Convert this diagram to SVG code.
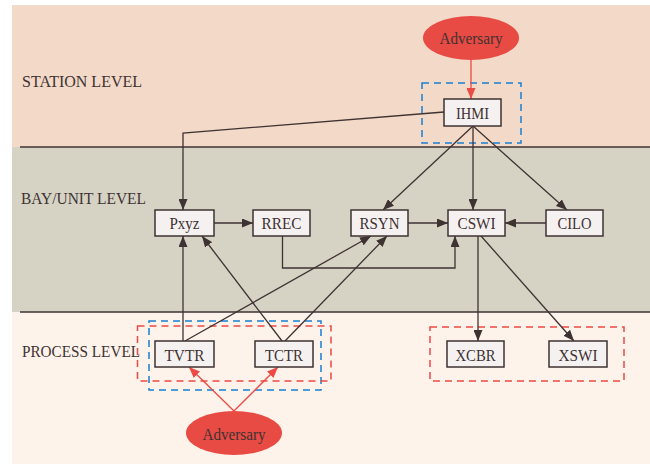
<svg xmlns="http://www.w3.org/2000/svg" width="650" height="464" viewBox="0 0 650 464">
<defs>
<style>
.lbl{font-family:"Liberation Serif","Times New Roman",serif;font-size:17px;fill:#3e3232}
.node rect{fill:#f6f1f1;stroke:#3e3232;stroke-width:1.5}
.node text{font-family:"Liberation Serif","Times New Roman",serif;font-size:17px;fill:#3e3232;text-anchor:middle}
.adv ellipse{fill:#e84a44}
.adv text{font-family:"Liberation Serif","Times New Roman",serif;font-size:16.5px;fill:#3e3232;text-anchor:middle}
.c{fill:none;stroke:#3e3232;stroke-width:1.3;marker-end:url(#ah)}
.r{fill:none;stroke:#ec4a44;stroke-width:1.3;marker-end:url(#ahr)}
.db{fill:none;stroke:#1a7fd4;stroke-width:1.5;stroke-dasharray:7 5}
.dr{fill:none;stroke:#ec4a44;stroke-width:1.5;stroke-dasharray:7 5}
.sep{stroke:#3e3232;stroke-width:1.5}
</style>
<marker id="ah" markerUnits="userSpaceOnUse" markerWidth="11" markerHeight="9" refX="11" refY="4.5" orient="auto"><path d="M0,0 L11,4.5 L0,9 z" fill="#3e3232"/></marker>
<marker id="ahr" markerUnits="userSpaceOnUse" markerWidth="11" markerHeight="9" refX="11" refY="4.5" orient="auto"><path d="M0,0 L11,4.5 L0,9 z" fill="#ec4a44"/></marker>
</defs>
<g id="background">
<rect x="12" y="5" width="638" height="142" fill="#f3d9c7"/>
<rect x="12" y="147" width="638" height="165" fill="#d6d3c5"/>
<rect x="12" y="312" width="638" height="152" fill="#fdf3ea"/>
<line class="sep" x1="20" y1="147" x2="650" y2="147"/>
<line class="sep" x1="20" y1="312" x2="650" y2="312"/>
<text class="lbl" x="22" y="87" textLength="120" lengthAdjust="spacingAndGlyphs">STATION LEVEL</text>
<text class="lbl" x="21" y="204" textLength="125" lengthAdjust="spacingAndGlyphs">BAY/UNIT LEVEL</text>
<text class="lbl" x="22" y="357" textLength="118" lengthAdjust="spacingAndGlyphs">PROCESS LEVEL</text>
</g>
<g id="groups">
<rect class="db" x="422" y="83" width="99" height="60"/>
<rect class="db" x="149" y="321" width="172" height="69"/>
<rect class="dr" x="137.5" y="326" width="193.5" height="55"/>
<rect class="dr" x="430" y="327" width="194" height="54"/>
</g>
<g id="connectors">
<path class="r" d="M471,60 L471,99"/>
<path class="r" d="M234,411 L189,367"/>
<path class="r" d="M234,411 L278,367"/>
<path class="c" d="M444,112 L183,133 L183,210"/>
<path class="c" d="M473,126 L383,210"/>
<path class="c" d="M473,126 L473,210"/>
<path class="c" d="M473,126 L567,210"/>
<path class="c" d="M214,223 L253,223"/>
<path class="c" d="M408,223 L448,223"/>
<path class="c" d="M546,223 L505,223"/>
<path class="c" d="M282.5,236 L282.5,268 L455,268 L455,236"/>
<path class="c" d="M183,341 L183,236"/>
<path class="c" d="M185,341 L371,236"/>
<path class="c" d="M282,341 L202,236"/>
<path class="c" d="M285,341 L387,236"/>
<path class="c" d="M478,236 L478,341"/>
<path class="c" d="M481,236 L574,341"/>
</g>
<g id="adversary-top" class="adv"><ellipse cx="471" cy="38" rx="48" ry="22"/><text x="471" y="44" textLength="63" lengthAdjust="spacingAndGlyphs">Adversary</text></g>
<g id="adversary-bottom" class="adv"><ellipse cx="234" cy="433" rx="48" ry="22"/><text x="234" y="440" textLength="63" lengthAdjust="spacingAndGlyphs">Adversary</text></g>
<g id="IHMI" class="node"><rect x="444" y="99" width="57" height="27"/><text x="472.5" y="118.5" textLength="33" lengthAdjust="spacingAndGlyphs">IHMI</text></g>
<g id="Pxyz" class="node"><rect x="155" y="210" width="59" height="26"/><text x="184.5" y="228.5" textLength="30" lengthAdjust="spacingAndGlyphs">Pxyz</text></g>
<g id="RREC" class="node"><rect x="253" y="210" width="57" height="26"/><text x="281.5" y="228.5" textLength="40" lengthAdjust="spacingAndGlyphs">RREC</text></g>
<g id="RSYN" class="node"><rect x="351" y="210" width="57" height="26"/><text x="379.5" y="228.5" textLength="40" lengthAdjust="spacingAndGlyphs">RSYN</text></g>
<g id="CSWI" class="node"><rect x="448" y="210" width="57" height="26"/><text x="476.5" y="228.5" textLength="38" lengthAdjust="spacingAndGlyphs">CSWI</text></g>
<g id="CILO" class="node"><rect x="546" y="210" width="57" height="26"/><text x="574.5" y="228.5" textLength="34" lengthAdjust="spacingAndGlyphs">CILO</text></g>
<g id="TVTR" class="node"><rect x="155" y="341" width="59" height="26"/><text x="184.5" y="360.5" textLength="40" lengthAdjust="spacingAndGlyphs">TVTR</text></g>
<g id="TCTR" class="node"><rect x="255" y="341" width="58" height="26"/><text x="284" y="360.5" textLength="38" lengthAdjust="spacingAndGlyphs">TCTR</text></g>
<g id="XCBR" class="node"><rect x="447" y="341" width="57" height="26"/><text x="475.5" y="360.5" textLength="40" lengthAdjust="spacingAndGlyphs">XCBR</text></g>
<g id="XSWI" class="node"><rect x="549" y="341" width="58" height="26"/><text x="578" y="360.5" textLength="39" lengthAdjust="spacingAndGlyphs">XSWI</text></g>
</svg>
